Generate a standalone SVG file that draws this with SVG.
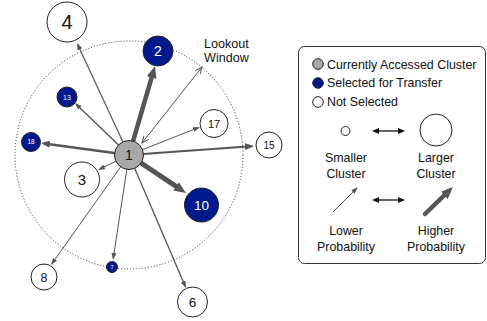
<svg xmlns="http://www.w3.org/2000/svg" width="487" height="321" viewBox="0 0 487 321">
<style>
text{font-family:"Liberation Sans",Arial,sans-serif;fill:#111}
.nd{stroke:#222;stroke-width:1}
.w{fill:#fff}
.b{fill:#001a8c}
.g{fill:#a8a8a8}
.c{text-anchor:middle}
.ar{stroke:#555;fill:none}
.lg{font-size:12.4px}
</style>
<defs>
<marker id="s" markerUnits="userSpaceOnUse" markerWidth="7" markerHeight="5" viewBox="0 0 7 5" refX="5" refY="2.5" orient="auto"><path d="M0,0L7,2.5L0,5z" fill="#555"/></marker>
<marker id="m" markerUnits="userSpaceOnUse" markerWidth="9" markerHeight="7" viewBox="0 0 9 7" refX="6" refY="3.5" orient="auto"><path d="M0,0L9,3.5L0,7z" fill="#555"/></marker>
<marker id="l" markerUnits="userSpaceOnUse" markerWidth="12" markerHeight="10" viewBox="0 0 12 10" refX="6" refY="5" orient="auto"><path d="M0,0L12,5L0,10z" fill="#555"/></marker>
<marker id="o" markerUnits="userSpaceOnUse" markerWidth="8" markerHeight="8" viewBox="0 0 8 8" refX="7" refY="4" orient="auto-start-reverse"><path d="M0,1L7,4L0,7" fill="none" stroke="#555" stroke-width="1"/></marker>
<marker id="k" markerUnits="userSpaceOnUse" markerWidth="7" markerHeight="6" viewBox="0 0 7 6" refX="5" refY="3" orient="auto-start-reverse"><path d="M0,0L7,3L0,6z" fill="#111"/></marker>
</defs>
<circle cx="129" cy="155" r="114" fill="none" stroke="#333" stroke-width="1" stroke-dasharray="1,2"/>
<g id="connectors">
<line class="ar" x1="129" y1="155" x2="77.8" y2="44.8" stroke-width="1.2" marker-end="url(#s)"/>
<line class="ar" x1="129" y1="155" x2="153.3" y2="71.8" stroke-width="4.5" marker-end="url(#l)"/>
<line class="ar" x1="129" y1="155" x2="198.1" y2="127.7" stroke-width="1" marker-end="url(#s)"/>
<line class="ar" x1="129" y1="155" x2="251" y2="146.2" stroke-width="2" marker-end="url(#m)"/>
<line class="ar" x1="129" y1="155" x2="76.4" y2="104.4" stroke-width="1.4" marker-end="url(#s)"/>
<line class="ar" x1="129" y1="155" x2="44" y2="143.4" stroke-width="2.5" marker-end="url(#m)"/>
<line class="ar" x1="129" y1="155" x2="99.8" y2="169.1" stroke-width="1" marker-end="url(#s)"/>
<line class="ar" x1="129" y1="155" x2="181" y2="189.7" stroke-width="5" marker-end="url(#l)"/>
<line class="ar" x1="129" y1="155" x2="52.2" y2="263.4" stroke-width="1" marker-end="url(#s)"/>
<line class="ar" x1="129" y1="155" x2="113.3" y2="258" stroke-width="1" marker-end="url(#s)"/>
<line class="ar" x1="129" y1="155" x2="185.2" y2="286.2" stroke-width="1.3" marker-end="url(#s)"/>
<line class="ar" x1="142" y1="143" x2="202" y2="67" stroke-width="1" marker-start="url(#o)" marker-end="url(#o)"/>
</g>
<g id="n4"><circle class="nd w" cx="67" cy="22" r="20"/><text class="c" x="67" y="29" font-size="20">4</text></g>
<g id="n2"><circle class="nd b" cx="158" cy="51" r="15"/><text class="c" x="158" y="56" font-size="14" style="fill:#fff">2</text></g>
<g id="n13"><circle class="nd b" cx="67" cy="97" r="10"/><text class="c" x="67" y="99.5" font-size="7" style="fill:#fff">13</text></g>
<g id="n18"><circle class="nd b" cx="31" cy="142" r="9.5"/><text class="c" x="31" y="144.2" font-size="6.5" style="fill:#fff">18</text></g>
<g id="n17"><circle class="nd w" cx="214" cy="123.5" r="14"/><text class="c" x="214" y="127.5" font-size="11">17</text></g>
<g id="n15"><circle class="nd w" cx="269" cy="145" r="13"/><text class="c" x="269" y="148.7" font-size="10">15</text></g>
<g id="n3"><circle class="nd w" cx="82" cy="179.5" r="17.5"/><text class="c" x="82" y="185" font-size="15">3</text></g>
<g id="n10"><circle class="nd b" cx="201.5" cy="205" r="17"/><text class="c" x="201.5" y="210" font-size="13.5" style="fill:#fff">10</text></g>
<g id="n7"><circle class="nd b" cx="112" cy="267" r="5.5"/><text class="c" x="112" y="269" font-size="5.5" style="fill:#fff">7</text></g>
<g id="n8"><circle class="nd w" cx="44" cy="277" r="13"/><text class="c" x="44" y="281.5" font-size="12.5">8</text></g>
<g id="n6"><circle class="nd w" cx="192.5" cy="302" r="15"/><text class="c" x="192.5" y="307" font-size="13.5">6</text></g>
<g id="n1"><circle class="nd g" cx="129" cy="155" r="14.5"/><text class="c" x="129" y="160" font-size="14">1</text></g>
<g id="lookout"><text x="204" y="48" font-size="12.6">Lookout</text><text x="204" y="61.5" font-size="12.6">Window</text></g>
<g id="legend">
<rect x="298.5" y="46.5" width="187" height="217" rx="6" fill="#fff" stroke="#333" stroke-width="1"/>
<circle class="nd g" cx="318" cy="64" r="5.3"/><text class="lg" x="327" y="68.5">Currently Accessed Cluster</text>
<circle class="nd b" cx="318" cy="83" r="5.3"/><text class="lg" x="327" y="87">Selected for Transfer</text>
<circle class="nd w" cx="318" cy="102" r="5.3"/><text class="lg" x="327" y="105.5">Not Selected</text>
<circle class="nd w" cx="345.5" cy="131" r="4.5"/>
<line x1="374" y1="131" x2="403" y2="131" stroke="#111" stroke-width="1.3" marker-start="url(#k)" marker-end="url(#k)"/>
<circle class="nd w" cx="436" cy="130" r="16"/>
<text class="lg c" x="346" y="162">Smaller</text><text class="lg c" x="346" y="178">Cluster</text>
<text class="lg c" x="436" y="162">Larger</text><text class="lg c" x="436" y="178">Cluster</text>
<line class="ar" x1="333" y1="212" x2="356.5" y2="188.5" stroke-width="1" marker-end="url(#s)"/>
<line x1="374" y1="200" x2="403" y2="200" stroke="#111" stroke-width="1.3" marker-start="url(#k)" marker-end="url(#k)"/>
<line class="ar" x1="425" y1="214" x2="448.6" y2="191.2" stroke-width="4.5" stroke-linecap="round" marker-end="url(#l)"/>
<text class="lg c" x="346" y="235">Lower</text><text class="lg c" x="346" y="251">Probability</text>
<text class="lg c" x="436" y="235">Higher</text><text class="lg c" x="436" y="251">Probability</text>
</g>
</svg>
